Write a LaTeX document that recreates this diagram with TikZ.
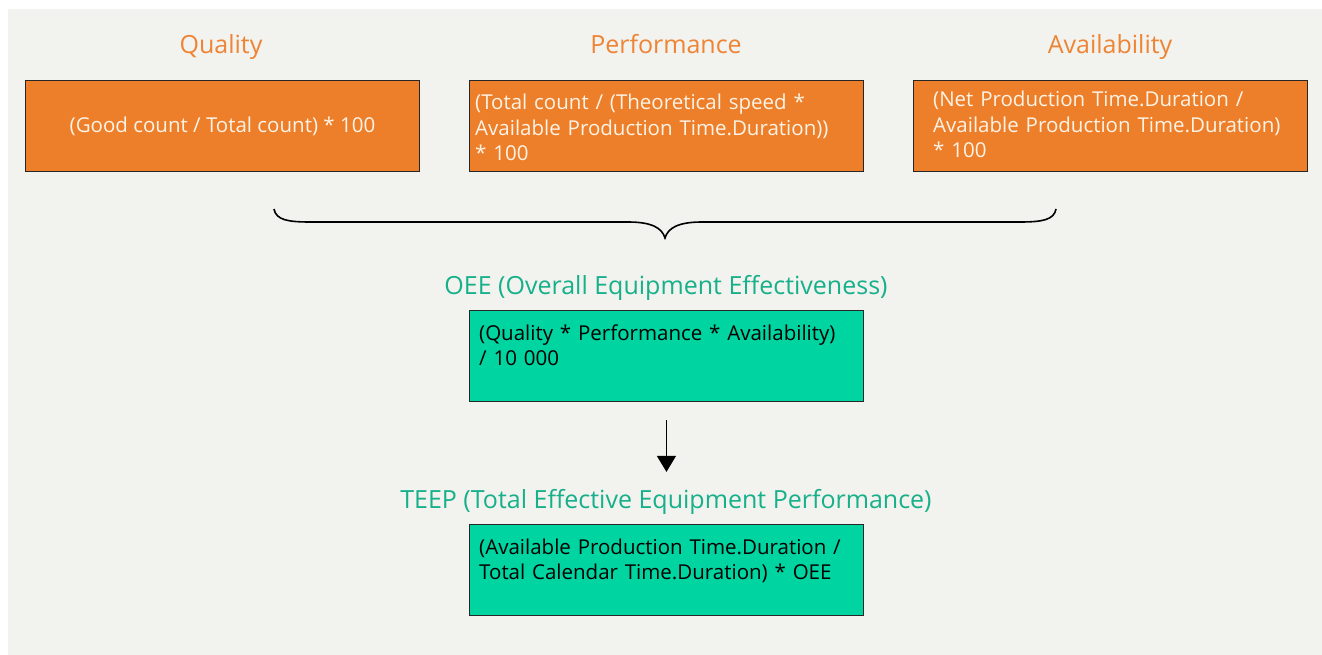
\documentclass[tikz,border=0pt]{standalone}
\usepackage{fontspec}
\setmainfont{Open Sans}
\usetikzlibrary{arrows.meta}
\definecolor{pagebg}{HTML}{F2F2EE}
\definecolor{orfill}{HTML}{EE7F2A}
\definecolor{ortitle}{HTML}{EE8434}
\definecolor{grfill}{HTML}{00D4A0}
\definecolor{grtitle}{HTML}{16B08A}
\definecolor{lighttext}{HTML}{FDF3E6}
\tikzset{
  box/.style={draw=black!85, line width=0.9pt, anchor=north west, inner sep=0pt,
              minimum width=394pt, minimum height=91pt},
  orbox/.style={box, fill=orfill},
  grbox/.style={box, fill=grfill},
  boxfont/.style={font=\fontsize{20.5}{25.5}\selectfont},
  boxtext/.style={boxfont, inner sep=0pt, anchor=base west, align=left, text width=385pt},
  heading/.style={inner sep=0pt, anchor=base, font=\fontsize{25}{29}\selectfont},
  flow/.style={line width=1.2pt, -{Triangle[width=19pt,length=16pt]}}
}
\begin{document}
\begin{tikzpicture}[x=1pt,y=-1pt]
\useasboundingbox (0,0) rectangle (1322,655);
\fill[white] (0,0) rectangle (1322,655);
\fill[pagebg] (8,9) rectangle (1322,655);

% input factors
\node[heading, text=ortitle] (qt) at (221,54) {Quality};
\node[heading, text=ortitle] (pt) at (666,54) {Performance};
\node[heading, text=ortitle] (at) at (1110,54) {Availability};

\node[orbox] (q) at (25,80) {};
\node[orbox] (p) at (469,80) {};
\node[orbox] (a) at (913,80) {};

\node[boxfont, inner sep=0pt, text=lighttext] (qx) at (q.center) {(Good count / Total count) * 100};
\node[boxtext, text=lighttext] (px) at (475,110) {(Total count / (Theoretical speed *\\Available Production Time.Duration))\\{}* 100};
\node[boxtext, text=lighttext] (ax) at (933,107) {(Net Production Time.Duration /\\Available Production Time.Duration)\\{}* 100};

% brace gathering the three factors
\coordinate (bl) at (274,209);
\coordinate (br) at (1056,209);
\coordinate (bt) at (665,238);
\draw[line width=1.6pt]
  (bl) .. controls (276,220) and (288,222) .. (310,222) -- (628,222)
  .. controls (652,222) and (662,228) .. (bt)
  .. controls (668,228) and (678,222) .. (702,222) -- (1020,222)
  .. controls (1042,222) and (1054,220) .. (br);

% OEE
\node[heading, text=grtitle] (ot) at (666,294) {OEE (Overall Equipment Effectiveness)};
\node[grbox] (o) at (469,310) {};
\node[boxtext] (ox) at (479,340) {(Quality * Performance * Availability)\\/ 10 000};

\draw[flow] (o.south) ++(0,18) -- ++(0,52);

% TEEP
\node[heading, text=grtitle] (tt) at (666,508) {TEEP (Total Effective Equipment Performance)};
\node[grbox] (t) at (469,524) {};
\node[boxtext] (tx) at (479,554) {(Available Production Time.Duration /\\Total Calendar Time.Duration) * OEE};
\end{tikzpicture}
\end{document}
